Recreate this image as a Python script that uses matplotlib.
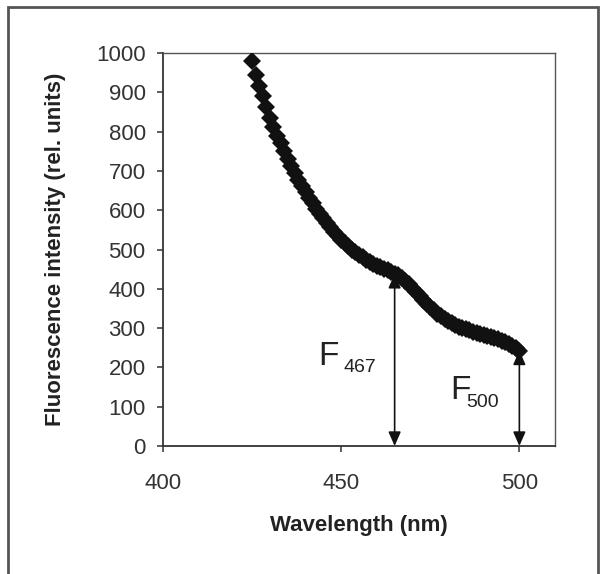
import matplotlib
matplotlib.use("Agg")
import matplotlib.pyplot as plt
from matplotlib.patches import Rectangle

plt.rcParams['font.family'] = ['Liberation Sans', 'DejaVu Sans']

# ---- data ----
wavelength = list(range(425, 501))
intensity = [
    980, 945, 915, 890, 862, 835, 812, 790, 770, 750,   # 425-434
    730, 712, 695, 678, 662, 647, 632, 618, 604, 591,   # 435-444
    579, 567, 556, 545, 535, 525, 516, 508, 500, 493,   # 445-454
    486, 480, 474, 469, 464, 459, 455, 451, 447, 443,   # 455-464
    438, 434, 428, 420, 411, 401, 391, 381, 371, 362,   # 465-474
    353, 345, 337, 330, 324, 318, 313, 308, 304, 300,   # 475-484
    297, 294, 291, 288, 286, 283, 280, 277, 274, 271,   # 485-494
    268, 264, 260, 255, 249, 243,                       # 495-500
]
arrow_wl = [465, 500]
arrow_main = ['F', 'F']
arrow_sub = ['467', '500']
x_ticks = [400, 450, 500]
y_ticks = list(range(0, 1001, 100))

fig = plt.figure(figsize=(6.0, 5.74), dpi=100)
ax = fig.add_axes([163/600, 1-446/574, (555-163)/600, (446-53)/574])

ax.plot(wavelength, intensity, linestyle='none', marker='D', markersize=9,
        color='#111111', markeredgewidth=0, zorder=3)

for wl, main, sub in zip(arrow_wl, arrow_main, arrow_sub):
    top = intensity[wavelength.index(wl)]
    ax.annotate('', xy=(wl, 0), xytext=(wl, top),
                arrowprops=dict(arrowstyle='<|-|>,head_length=0.5,head_width=0.22',
                                mutation_scale=17, lw=1.2, color='#111111',
                                shrinkA=0, shrinkB=0), zorder=4)

# labels for the arrows
ax.text(443.6, 206, 'F', fontsize=24, color='#222222', va='baseline', ha='left')
ax.text(450.6, 189, '467', fontsize=14, color='#222222', va='baseline', ha='left')
ax.text(480.5, 120, 'F', fontsize=24, color='#222222', va='baseline', ha='left')
ax.text(485.0, 100, '500', fontsize=14, color='#222222', va='baseline', ha='left')

ax.set_xlim(400, 510)
ax.set_ylim(0, 1000)
ax.set_xticks(x_ticks)
ax.set_yticks(y_ticks)
ax.tick_params(axis='both', direction='out', length=4.5, width=1.1,
               colors='#333333', labelsize=16, labelcolor='#333333')
ax.tick_params(axis='x', pad=15)
ax.tick_params(axis='y', pad=8)

for side in ['left', 'bottom']:
    ax.spines[side].set_color('#333333')
    ax.spines[side].set_linewidth(1.3)
for side in ['top', 'right']:
    ax.spines[side].set_color('#555555')
    ax.spines[side].set_linewidth(1.0)

ax.set_xlabel('Wavelength (nm)', fontsize=16, fontweight='bold', color='#222222')
ax.xaxis.set_label_coords(0.5, -0.176)
ax.set_ylabel('Fluorescence intensity (rel. units)', fontsize=16,
              fontweight='bold', color='#222222')
ax.yaxis.set_label_coords(-0.248, 0.5)

# outer frame around the figure
fig.patches.append(Rectangle((8/600, -0.01), (598-8)/600, 1 - 7/574 + 0.01,
                             transform=fig.transFigure, fill=False,
                             edgecolor='#555555', linewidth=2.0))

fig.savefig('out.png', dpi=100)
